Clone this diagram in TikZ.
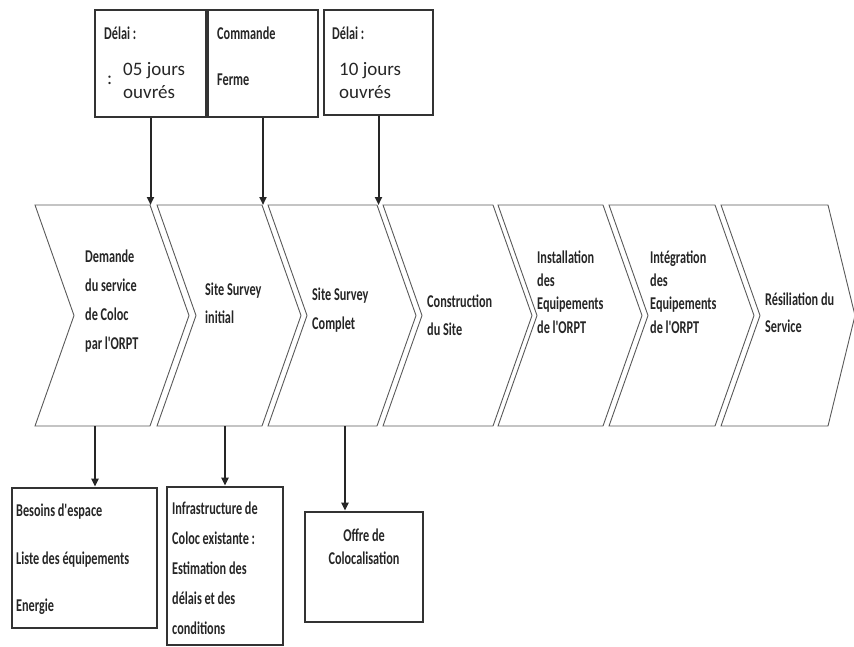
\documentclass[tikz,border=0pt]{standalone}
\usepackage{fontspec}
\setmainfont{Carlito}
\newfontfamily\condfont{Carlito}[FakeStretch=0.68]
\usetikzlibrary{arrows.meta}

\newcommand{\cb}[2]{\condfont\bfseries\fontsize{#1}{#2}\selectfont}
\tikzstyle{chS}=[draw=black!65, line width=0.9pt, fill=white]
\tikzstyle{tS}=[draw=black!80, line width=2.6pt, minimum height=107pt, inner sep=0pt]
\tikzstyle{bS}=[draw=black!80, line width=2.6pt, inner sep=0pt]
\tikzstyle{aS}=[draw=black!85, line width=2pt, -{Triangle[length=8pt,width=7pt]}]
\tikzstyle{lS}=[inner sep=0pt, anchor=west, align=left, text=black!85, font=\cb{18}{28}]
\tikzstyle{rS}=[inner sep=0pt, anchor=west, align=left, text=black!85, font=\fontsize{19}{23}\selectfont]

\begin{document}
\begin{tikzpicture}[x=1pt,y=-1pt]
        \useasboundingbox (0,0) rectangle (854,646);
                % chevrons
                \foreach \l/\r/\d/\n in {35/150/39/1,157/262/39/2,268/377/39/3,383/493/39/4,498/603/39/5,609/715/39/6,721/828/27/7}{
                    \draw[chS] (\l,205) -- (\r,205) -- ({\r+\d},315.5) -- (\r,426) -- (\l,426) -- ({\l+39},315.5) -- cycle;
                    \coordinate (ct\n) at (\r,205);
                }
                \coordinate (cb1) at (95,426);
                \coordinate (cb2) at (225,426);
                \coordinate (cb3) at (345,426);
                \draw (85,301.5) node[lS, font=\cb{18}{29}] (s1) {Demande\\du service\\de Coloc\\par l'ORPT};
                \draw (205,303) node[lS] (s2) {Site Survey\\initial};
                \draw (312,310) node[lS, font=\cb{18}{29}] (s3) {Site Survey\\Complet};
                \draw (427,315) node[lS] (s4) {Construction\\du Site};
                \draw (537,292) node[lS, font=\cb{18}{23.3}] (s5) {Installation\\des\\Equipements\\de l'ORPT};
                \draw (650,292) node[lS, font=\cb{18}{23.3}] (s6) {Intégration\\des\\Equipements\\de l'ORPT};
                \draw (765,313) node[lS, font=\cb{18}{27}] (s7) {Résiliation du\\Service};
                % top boxes
                \draw (150.5,63.5) node[tS, minimum width=111pt] (t1) {};
                \draw (263,63.5) node[tS, minimum width=110pt] (t2) {};
                \draw (378.5,62.5) node[tS, minimum width=109pt, minimum height=105pt] (t3) {};
                \draw (104,33) node[lS] (t1a) {Délai :};
                \draw (107,80) node[rS] (t1b) {:};
                \draw (123,81) node[rS] (t1c) {05 jours\\ouvrés};
                \draw (217,33) node[lS] (t2a) {Commande};
                \draw (217,80) node[lS] (t2b) {Ferme};
                \draw (332,33) node[lS] (t3a) {Délai :};
                \draw (339,81) node[rS] (t3c) {10 jours\\ouvrés};
                % bottom boxes
                \draw (84.5,558) node[bS, minimum width=145pt, minimum height=140pt] (b1) {};
                \draw (225,566) node[bS, minimum width=116pt, minimum height=158pt] (b2) {};
                \draw (364,567) node[bS, minimum width=118pt, minimum height=110pt] (b3) {};
                \draw (16,559.5) node[lS, font=\cb{18}{47.5}] (b1t) {Besoins d'espace\\Liste des équipements\\Energie};
                \draw (172,568) node[lS, font=\cb{18}{30}] (b2t) {Infrastructure de\\Coloc existante :\\Estimation des\\délais et des\\conditions};
                \draw (364,546.5) node[lS, anchor=center, align=center, font=\cb{18}{23}] (b3t) {Offre de\\Colocalisation};
                % arrows
                \draw[aS] (t1.south) -- (t1.south |- ct1);
                \draw[aS] (t2.south) -- (t2.south |- ct2);
                \draw[aS] (t3.south) -- (t3.south |- ct3);
                \draw[aS] (cb1) -- (cb1 |- b1.north);
                \draw[aS] (cb2) -- (cb2 |- b2.north);
                \draw[aS] (cb3) -- (cb3 |- b3.north);
        \end{tikzpicture}
\end{document}
